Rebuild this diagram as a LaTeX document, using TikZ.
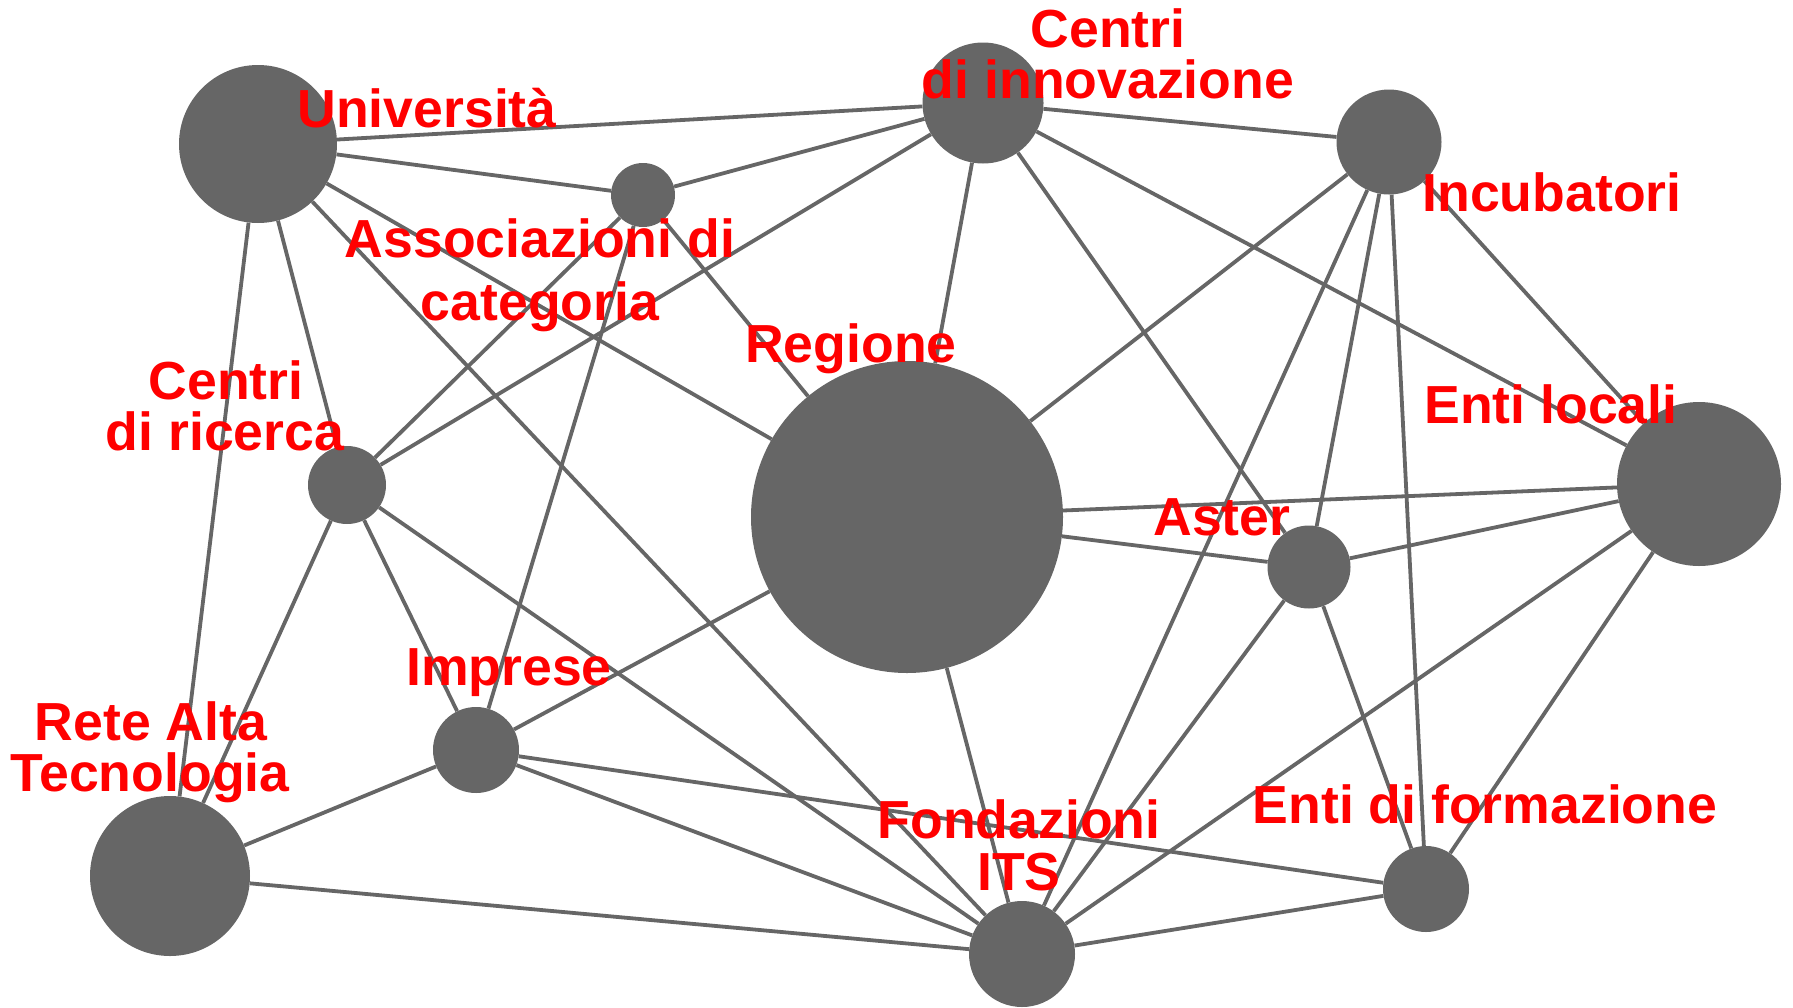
\documentclass[tikz,border=0pt]{standalone}
\usepackage{fontspec}
\setmainfont{Liberation Sans}
\definecolor{ng}{HTML}{666666}
\definecolor{lr}{HTML}{FF0000}
\tikzset{
  vtx/.style={circle, fill=ng, draw=none, inner sep=0pt, minimum size=#1},
  edge/.style={draw=ng, line width=3.8pt},
  lbl/.style={text=lr, font=\fontsize{53.6}{50}\selectfont\bfseries, inner sep=0pt, anchor=base}
}
\begin{document}
\begin{tikzpicture}[x=1pt,y=-1pt]
\useasboundingbox (0,0) rectangle (1793,1007);
% nodes
\node[vtx=158pt] (uni)  at (258,144) {};
\node[vtx=64pt]  (ass)  at (643,195) {};
\node[vtx=121pt] (cinn) at (983,103) {};
\node[vtx=105pt] (inc)  at (1389,142) {};
\node[vtx=312pt] (reg)  at (907,517) {};
\node[vtx=78pt]  (cric) at (347,485) {};
\node[vtx=164pt] (eloc) at (1699,484) {};
\node[vtx=83pt]  (ast)  at (1309,567) {};
\node[vtx=86pt]  (imp)  at (476,750) {};
\node[vtx=160pt] (rete) at (170,876) {};
\node[vtx=106pt] (its)  at (1022,954) {};
\node[vtx=86pt]  (efor) at (1426,889) {};
% edges
\draw[edge] (uni) -- (cinn);
\draw[edge] (uni) -- (ass);
\draw[edge] (uni) -- (reg);
\draw[edge] (uni) -- (cric);
\draw[edge] (uni) -- (rete);
\draw[edge] (uni) -- (its);
\draw[edge] (ass) -- (cinn);
\draw[edge] (ass) -- (reg);
\draw[edge] (ass) -- (imp);
\draw[edge] (ass) -- (cric);
\draw[edge] (cinn) -- (inc);
\draw[edge] (cinn) -- (reg);
\draw[edge] (cinn) -- (ast);
\draw[edge] (cinn) -- (eloc);
\draw[edge] (cinn) -- (cric);
\draw[edge] (inc) -- (reg);
\draw[edge] (inc) -- (eloc);
\draw[edge] (inc) -- (ast);
\draw[edge] (inc) -- (its);
\draw[edge] (inc) -- (efor);
\draw[edge] (reg) -- (eloc);
\draw[edge] (reg) -- (ast);
\draw[edge] (reg) -- (imp);
\draw[edge] (reg) -- (its);
\draw[edge] (cric) -- (imp);
\draw[edge] (cric) -- (rete);
\draw[edge] (cric) -- (its);
\draw[edge] (eloc) -- (ast);
\draw[edge] (eloc) -- (its);
\draw[edge] (eloc) -- (efor);
\draw[edge] (ast) -- (its);
\draw[edge] (ast) -- (efor);
\draw[edge] (imp) -- (rete);
\draw[edge] (imp) -- (its);
\draw[edge] (imp) -- (efor);
\draw[edge] (rete) -- (its);
\draw[edge] (its) -- (efor);
% labels
\node[lbl] (luni)  at (427,127) {Università};
\node[lbl] (lassa) at (540,257) {Associazioni di};
\node[lbl] (lassb) at (540,320) {categoria};
\node[lbl] (lcia)  at (1108,47) {Centri};
\node[lbl] (lcib)  at (1108,98) {di innovazione};
\node[lbl] (linc)  at (1552,211) {Incubatori};
\node[lbl] (lreg)  at (851,362) {Regione};
\node[lbl] (lcra)  at (226,399) {Centri};
\node[lbl] (lcrb)  at (225,450) {di ricerca};
\node[lbl] (lelo)  at (1551,423) {Enti locali};
\node[lbl] (last)  at (1222,535) {Aster};
\node[lbl] (limp)  at (509,685) {Imprese};
\node[lbl] (lrea)  at (151,740) {Rete Alta};
\node[lbl] (lreb)  at (150,791) {Tecnologia};
\node[lbl] (lfoa)  at (1019,838) {Fondazioni};
\node[lbl] (lfob)  at (1019,890) {ITS};
\node[lbl] (lefo)  at (1485,823) {Enti di formazione};
\end{tikzpicture}
\end{document}
